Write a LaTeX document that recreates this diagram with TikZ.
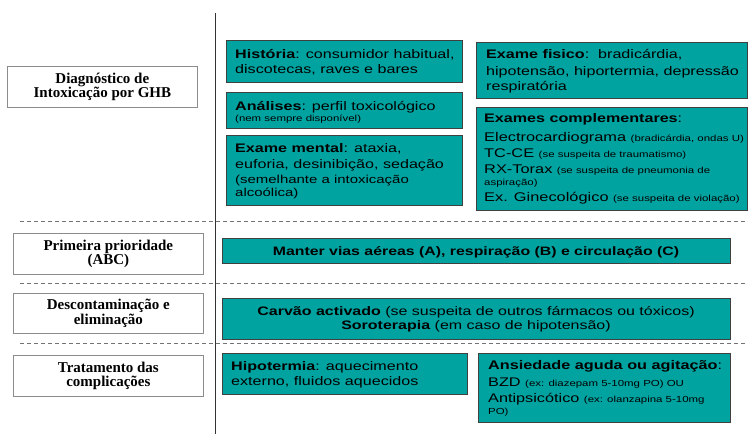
\documentclass[tikz,border=0pt]{standalone}
\usepackage{fontspec}
\setmainfont{Liberation Sans}[FakeStretch=1.3]
\newfontfamily\tnr{Liberation Serif}
\definecolor{tealbox}{RGB}{0,163,160}
\newcommand\sml[1]{{\fontsize{8.8}{10}\selectfont\spaceskip=0pt\xspaceskip=0pt #1}}
\newcommand\tst{\rule{0pt}{10pt}}
\tikzset{
  catbox/.style={draw=black!45, line width=0.7pt, fill=white, align=center,
    font=\tnr\bfseries\fontsize{15}{13.5}\selectfont, inner sep=0pt, anchor=north west,
    minimum width=190pt},
  infobox/.style={draw=black!75, fill=tealbox, line width=0.8pt, anchor=north west,
    inner sep=0pt},
  ttext/.style={anchor=north west, align=left, inner sep=0pt,
    font=\fontsize{12.4}{15}\selectfont,
    execute at begin node={\spaceskip=0pt\xspaceskip=0pt}},
  ctext/.style={ttext, anchor=north, align=center},
  sepline/.style={draw=black!55, dash pattern=on 4pt off 3pt, line width=0.7pt}
}
\begin{document}
\begin{tikzpicture}[x=1pt,y=-1pt]
\useasboundingbox (0,0) rectangle (748,434);
% vertical rule
\coordinate (vt) at (215,13);
\coordinate (vb) at (215,434);
\draw[black!80, line width=0.8pt] (vt) -- (vb);
% separators
\coordinate (s1l) at (20,221); \coordinate (s1r) at (748,221);
\coordinate (s2l) at (20,283); \coordinate (s2r) at (748,283);
\coordinate (s3l) at (20,343); \coordinate (s3r) at (748,343);
\draw[sepline] (s1l) -- (s1r);
\draw[sepline] (s2l) -- (s2r);
\draw[sepline] (s3l) -- (s3r);
% left category boxes
\node[catbox, minimum height=41pt] (diag) at (7,66) {Diagnóstico de\\Intoxicação por GHB};
\node[catbox, minimum height=41pt] (prim) at (13,233) {Primeira prioridade\\(ABC)};
\node[catbox, minimum height=40pt] (desc) at (13,293) {Descontaminação e\\eliminação};
\node[catbox, minimum height=41pt] (trat) at (13,355) {Tratamento das\\complicações};
% diagnosis boxes
\node[infobox, minimum width=236pt, minimum height=42pt] (hist) at (226,40) {};
\node[ttext] (histt) at (235,48)
  {\tst\textbf{História}: consumidor habitual,\\discotecas, raves e bares};
\node[infobox, minimum width=236pt, minimum height=36pt] (anal) at (226,92) {};
\node[ttext] (analt) at (235,100)
  {\tst\textbf{Análises}: perfil toxicológico\\[-3.3pt]\sml{(nem sempre disponível)}};
\node[infobox, minimum width=236pt, minimum height=70pt] (ment) at (226,135) {};
\node[ttext] (mentt) at (235,142)
  {\tst\textbf{Exame mental}: ataxia,\\[1pt]euforia, desinibição, sedação\\[0.5pt]{\fontsize{11.5}{13}\selectfont (semelhante a intoxicação}\\[-2pt]{\fontsize{11.5}{13}\selectfont alcoólica)}};
\node[infobox, minimum width=271pt, minimum height=56pt] (fis) at (476,42) {};
\node[ttext] (fist) at (486,48.5)
  {\tst\textbf{Exame fisico}:\ \ bradicárdia,\\[1.5pt]hipotensão, hiportermia, depressão\\respiratória};
\node[infobox, minimum width=271pt, minimum height=103pt] (comp) at (476,107) {};
\node[ttext, font=\fontsize{12.4}{16.5}\selectfont] (compt) at (484,112.5)
  {\tst\textbf{Exames complementares}:\\[1.8pt]
   {\fontsize{12.6}{16.5}\selectfont Electrocardiograma} \sml{(bradicárdia, ondas U)}\\
   {\fontsize{12.6}{16.5}\selectfont TC-CE} \sml{(se suspeita de traumatismo)}\\[-1pt]
   {\fontsize{12.6}{16.5}\selectfont RX-Torax} \sml{(se suspeita de pneumonia de}\\[-4pt]
   \sml{aspiração)}\\[-1pt]
   {\fontsize{12.6}{16.5}\selectfont Ex. Ginecológico} \sml{(se suspeita de violação)}};
% ABC
\node[infobox, minimum width=508pt, minimum height=25pt] (abc) at (222,238) {};
\node[ctext, font=\bfseries\fontsize{12.2}{15}\selectfont] (abct) at (476,245.7)
  {\tst Manter vias aéreas (A), respiração (B) e circulação (C)};
% decontamination
\node[infobox, minimum width=508pt, minimum height=41pt] (carv) at (222,298) {};
\node[ctext, font=\fontsize{12.3}{14}\selectfont] (carvt) at (476,305)
  {\tst\textbf{Carvão activado} (se suspeita de outros fármacos ou tóxicos)\\\textbf{Soroterapia} (em caso de hipotensão)};
% complications
\node[infobox, minimum width=245pt, minimum height=41pt] (hipo) at (222,353) {};
\node[ttext] (hipot) at (231,360)
  {\tst\textbf{Hipotermia}: aquecimento\\externo, fluidos aquecidos};
\node[infobox, minimum width=252pt, minimum height=69pt] (ansi) at (478,353) {};
\node[ttext, font=\fontsize{12.5}{17}\selectfont] (ansit) at (488,359)
  {\tst\textbf{Ansiedade aguda ou agitação}:\\
   BZD \sml{(ex: diazepam 5-10mg PO) OU}\\[-1pt]
   Antipsicótico \sml{(ex: olanzapina 5-10mg}\\[-5pt]
   \sml{PO)}};
\end{tikzpicture}
\end{document}
